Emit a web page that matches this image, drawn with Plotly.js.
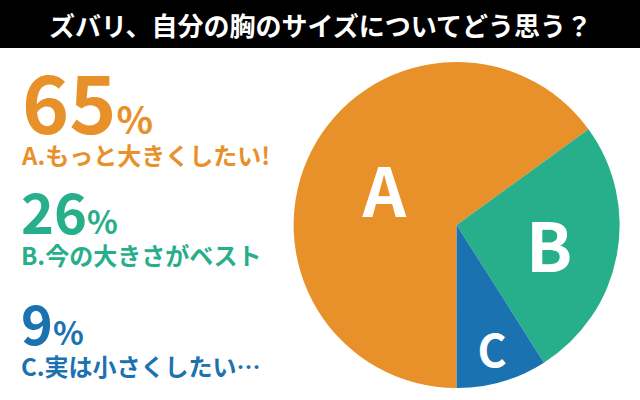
<!DOCTYPE html>
<html>
<head>
<meta charset="utf-8">
<script src="https://cdn.plot.ly/plotly-3.0.1.min.js"></script>
<style>
  html, body { margin: 0; padding: 0; background: #fff; }
  #chart { width: 640px; height: 400px; }
</style>
</head>
<body>
<div id="chart"></div>
<script>
// answers, share in %, colours
var letters = ['A', 'B', 'C'];
var shares = [65, 26, 9];
var answers = ['A.もっと大きくしたい!', 'B.今の大きさがベスト', 'C.実は小さくしたい…'];
var colors = ['#E8912A', '#27AE8A', '#1B72B0'];
var titleText = 'ズバリ、自分の胸のサイズについてどう思う？';

var font = '"Noto Sans CJK JP", "Noto Sans", sans-serif';

// left column: big number + label in one annotation per answer
var numSize = [80, 56, 54];
var pctSize = [38, 32, 32];
var blockY = [0.565, 0.315, 0.038];

var annotations = [{
  text: '<b>' + titleText + '</b>',
  xref: 'paper', yref: 'paper', x: 0.5, y: 0.94,
  xanchor: 'center', yanchor: 'middle', showarrow: false,
  font: {family: font, size: 26, color: '#fff'}
}];
for (var i = 0; i < shares.length; i++) {
  annotations.push({
    text: '<b><span style="font-size:' + numSize[i] + 'px">' + shares[i] + '</span>' +
          '<span style="font-size:' + pctSize[i] + 'px">%</span><br>' + answers[i] + '</b>',
    xref: 'paper', yref: 'paper', x: 0.03, y: blockY[i],
    xanchor: 'left', yanchor: 'bottom', align: 'left', showarrow: false,
    font: {family: font, size: 24, color: colors[i]}
  });
}

var trace = {
  type: 'pie',
  labels: letters,
  values: shares,
  sort: false,
  direction: 'clockwise',
  rotation: 180,
  marker: {colors: colors, line: {width: 0}},
  textinfo: 'label',
  textposition: 'inside',
  insidetextorientation: 'horizontal',
  insidetextfont: {family: font, size: 68, color: '#fff', weight: 'bold'},
  hoverinfo: 'label+percent',
  domain: {x: [0.455, 0.972], y: [0.03, 0.845]}
};

var layout = {
  width: 640,
  height: 400,
  margin: {l: 0, r: 0, t: 0, b: 0},
  paper_bgcolor: '#fff',
  showlegend: false,
  shapes: [{
    type: 'rect', xref: 'paper', yref: 'paper',
    x0: 0, x1: 1, y0: 0.88, y1: 1,
    fillcolor: '#000', line: {width: 0}, layer: 'below'
  }],
  annotations: annotations
};

Plotly.newPlot('chart', [trace], layout, {displayModeBar: false, staticPlot: true});
</script>
</body>
</html>
